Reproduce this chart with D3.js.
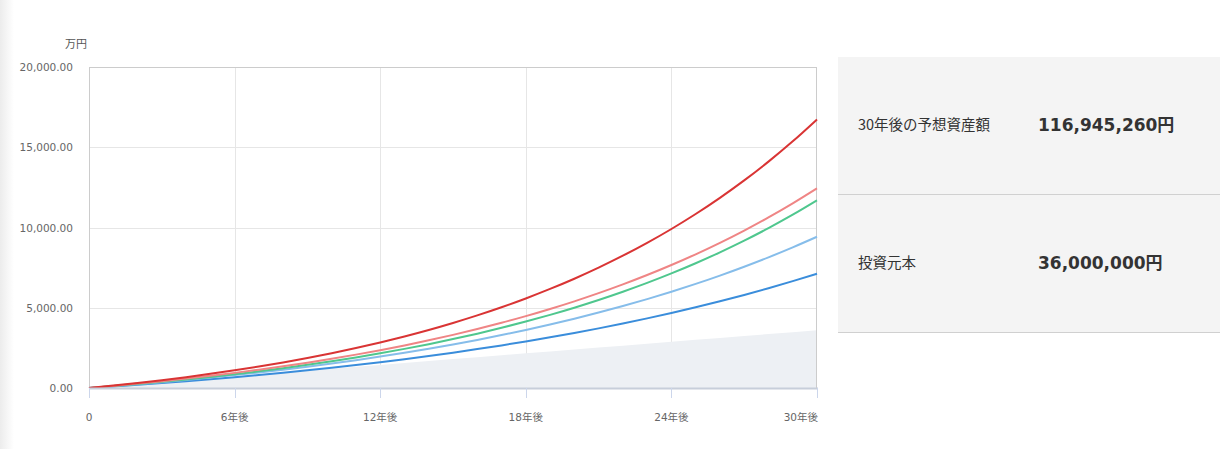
<!DOCTYPE html>
<html><head><meta charset="utf-8">
<script src="https://cdn.jsdelivr.net/npm/d3@7"></script>
<style>
html,body{margin:0;padding:0;background:#fff;}
svg{display:block;}
</style></head>
<body>
<svg id="c" width="1220" height="449"></svg>
<script>
const years = d3.range(0, 31);
const xTickYears = [0, 6, 12, 18, 24, 30];
const xTickLabels = ["0", "6年後", "12年後", "18年後", "24年後", "30年後"];
const yTicks = [0, 5000, 10000, 15000, 20000];
const principal = [0,120,240,360,480,600,720,840,960,1080,1200,1320,1440,1560,1680,1800,1920,2040,2160,2280,2400,2520,2640,2760,2880,3000,3120,3240,3360,3480,3600];
const seriesRed = [0,150,313,488,677,881,1101,1339,1595,1871,2169,2491,2838,3213,3617,4054,4524,5032,5580,6172,6809,7498,8241,9042,9907,10840,11847,12933,14105,15370,16735];
const seriesPink = [0,132,273,423,585,758,942,1140,1351,1578,1820,2079,2356,2653,2970,3310,3674,4062,4478,4924,5400,5910,6455,7038,7663,8331,9046,9811,10629,11505,12442];
const seriesGreen = [0,119,248,385,532,690,859,1040,1234,1442,1665,1905,2162,2437,2732,3048,3386,3750,4139,4557,5004,5484,5998,6549,7140,7774,8453,9181,9961,10798,11695];
const seriesLightBlue = [0,114,236,365,503,648,803,968,1142,1328,1525,1735,1957,2194,2445,2711,2995,3296,3615,3955,4316,4699,5106,5539,5999,6487,7005,7556,8141,8763,9423];
const seriesBlue = [0,98,202,312,427,549,677,813,956,1106,1266,1434,1611,1798,1995,2203,2423,2654,2899,3156,3428,3715,4018,4337,4674,5029,5404,5800,6217,6657,7122];
const summaryLabels = ["30年後の予想資産額", "投資元本"];
const summaryValues = ["116,945,260円", "36,000,000円"];

const svg = d3.select("#c");
const L = 89, R = 817, T = 67, B = 388;
const x = d3.scaleLinear().domain([0, 30]).range([L, R]);
const y = d3.scaleLinear().domain([0, 20000]).range([B, T]);

// left edge shadow
const defs = svg.append("defs");
const g1 = defs.append("linearGradient").attr("id","sh").attr("x1","0").attr("x2","1");
g1.append("stop").attr("offset","0").attr("stop-color","#ececec");
g1.append("stop").attr("offset","1").attr("stop-color","#ffffff");
svg.append("rect").attr("x",0).attr("y",0).attr("width",14).attr("height",449).attr("fill","url(#sh)");

// grid
svg.append("g").selectAll("line").data(yTicks.filter(d=>d>0 && d<20000)).join("line")
  .attr("x1",L).attr("x2",R).attr("y1",d=>Math.round(y(d))+0.5).attr("y2",d=>Math.round(y(d))+0.5)
  .attr("stroke","#e6e6e6");
svg.append("g").selectAll("line").data(xTickYears.filter(d=>d>0 && d<30)).join("line")
  .attr("x1",d=>Math.round(x(d))+0.5).attr("x2",d=>Math.round(x(d))+0.5).attr("y1",T).attr("y2",B)
  .attr("stroke","#e6e6e6");

// principal area
svg.append("path").datum(years)
  .attr("d", d3.area().x(d=>x(d)).y0(y(0)).y1(d=>y(principal[d])))
  .attr("fill","#edf0f4");

// plot border
svg.append("rect").attr("x",L+0.5).attr("y",T+0.5).attr("width",R-L-1).attr("height",B-T)
  .attr("fill","none").attr("stroke","#cccccc");

// lines
const lineGen = arr => d3.line().x(d=>x(d)).y(d=>y(arr[d])).curve(d3.curveMonotoneX)(years);
const series = [
  {v: seriesBlue, c: "#3a8ddb"},
  {v: seriesLightBlue, c: "#86bdea"},
  {v: seriesGreen, c: "#4fc78e"},
  {v: seriesPink, c: "#ef8585"},
  {v: seriesRed, c: "#d93434"}
];
series.forEach(s=>{
  svg.append("path").attr("d", lineGen(s.v)).attr("fill","none").attr("stroke",s.c).attr("stroke-width",2);
});

// x axis line
svg.append("line").attr("x1",L).attr("x2",R+1).attr("y1",B+0.5).attr("y2",B+0.5).attr("stroke","#c7ceda").attr("stroke-width",2);
// ticks
svg.append("g").selectAll("line").data(xTickYears).join("line")
  .attr("x1",d=>Math.round(x(d))+0.5).attr("x2",d=>Math.round(x(d))+0.5).attr("y1",B).attr("y2",B+10)
  .attr("stroke","#ccd6eb");
svg.append("g").selectAll("text").data(xTickYears).join("text")
  .attr("x",(d,i)=> i===xTickYears.length-1 ? x(d)+1 : x(d))
  .attr("y",421)
  .attr("text-anchor",(d,i)=> i===xTickYears.length-1 ? "end" : "middle")
  .attr("font-family","'DejaVu Sans','Noto Sans CJK JP',sans-serif").attr("font-size","10.5px").attr("fill","#666")
  .text((d,i)=>xTickLabels[i]);

// y labels
svg.append("g").selectAll("text").data(yTicks).join("text")
  .attr("x",73).attr("y",d=>y(d)+4)
  .attr("text-anchor","end")
  .attr("font-family","'DejaVu Sans',sans-serif").attr("font-size","10.5px").attr("fill","#666")
  .text(d=>d3.format(",.2f")(d));
svg.append("text").attr("x",87).attr("y",48).attr("text-anchor","end")
  .attr("font-family","'Noto Sans CJK JP',sans-serif").attr("font-size","11px").attr("fill","#555").text("万円");

// summary panel
const PX = 838, PW = 1220-838;
svg.append("rect").attr("x",PX).attr("y",57).attr("width",PW).attr("height",275).attr("fill","#f4f4f4");
svg.append("line").attr("x1",PX).attr("x2",1220).attr("y1",194.5).attr("y2",194.5).attr("stroke","#d0d0d0");
svg.append("line").attr("x1",PX).attr("x2",1220).attr("y1",332.5).attr("y2",332.5).attr("stroke","#d0d0d0");
const rowsY = [125, 263];
summaryLabels.forEach((t,i)=>{
  svg.append("text").attr("x",858).attr("y",rowsY[i]+5)
    .attr("font-family","'Noto Sans CJK JP',sans-serif").attr("font-size","14.5px").attr("fill","#333").text(t);
  svg.append("text").attr("x",1038).attr("y",rowsY[i]+6)
    .attr("font-family","'DejaVu Sans','Noto Sans CJK JP',sans-serif").attr("font-weight","bold").attr("font-size","17px").attr("fill","#333").text(summaryValues[i]);
});
</script>
</body></html>
